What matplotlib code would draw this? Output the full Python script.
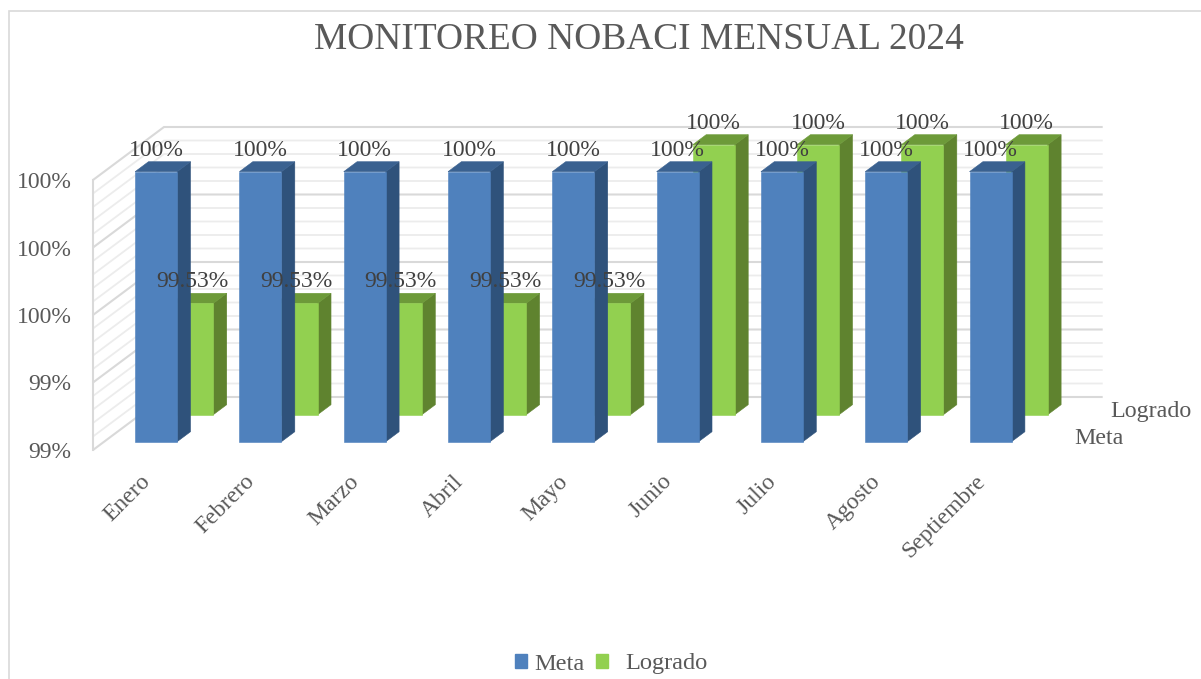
import matplotlib
matplotlib.use("Agg")
import matplotlib.pyplot as plt
import numpy as np
from matplotlib.patches import Polygon, Patch
from matplotlib.lines import Line2D

categories = ["Enero", "Febrero", "Marzo", "Abril", "Mayo", "Junio", "Julio", "Agosto", "Septiembre"]
meta = [100, 100, 100, 100, 100, 100, 100, 100, 100]
logrado = [99.53, 99.53, 99.53, 99.53, 99.53, 100, 100, 100, 100]
meta_labels = ["100%"] * 9
logrado_labels = ["99.53%"] * 5 + ["100%"] * 4
y_ticks = [99.2, 99.4, 99.6, 99.8, 100.0]
y_tick_labels = ["99%", "99%", "100%", "100%", "100%"]
y_minor = [99.24, 99.28, 99.32, 99.36, 99.44, 99.48, 99.52, 99.56, 99.64, 99.68, 99.72,
           99.76, 99.84, 99.88, 99.92, 99.96]

W, H = 1201, 679
FS = 17
plt.rcParams["font.family"] = ["Liberation Serif", "DejaVu Serif"]
fig = plt.figure(figsize=(W / 100, H / 100), dpi=100, facecolor="white")

# front plane of the 3D box, in pixels
L, R, B, T = 93, 1031.7, 450, 180
ax = fig.add_axes([L / W, 1 - B / H, (R - L) / W, (B - T) / H])
ax.set_xlim(0, 9)
ax.set_ylim(99.2, 100)
ax.patch.set_alpha(0)

# depth projection: t=0 front plane, t=1 back wall
DX = 71 / ((R - L) / 9)
DY = 53 / (B - T) * 0.8


def proj(x, v, t):
    return (x + t * DX, v + t * DY)


GRID_MAJOR = "#d9d9d9"
GRID_MINOR = "#ececec"
for vals, col, lw, z in ((y_minor, GRID_MINOR, 1.3, 1), (y_ticks, GRID_MAJOR, 1.5, 2)):
    for v in vals:
        a, b, c = proj(0, v, 0), proj(0, v, 1), proj(9, v, 1)
        ax.plot([a[0], b[0], c[0]], [a[1], b[1], c[1]], color=col, lw=lw, zorder=z,
                clip_on=False, solid_capstyle="butt", solid_joinstyle="miter")

BAR_L, BAR_R = 0.297, 0.700


def bar3d(i, v, t0, t1, front, side, top, z):
    x0, x1 = i + BAR_L, i + BAR_R
    base = 99.2
    faces = [
        ([proj(x1, base, t0), proj(x1, base, t1), proj(x1, v, t1), proj(x1, v, t0)], side),
        ([proj(x0, v, t0), proj(x1, v, t0), proj(x1, v, t1), proj(x0, v, t1)], top),
        ([proj(x0, base, t0), proj(x1, base, t0), proj(x1, v, t0), proj(x0, v, t0)], front),
    ]
    for pts, col in faces:
        ax.add_patch(Polygon(pts, closed=True, facecolor=col, edgecolor=col, lw=0.4,
                             zorder=z, clip_on=False))


BLUE, BLUE_SIDE, BLUE_TOP = "#4F81BD", "#2F527B", "#3A6190"
GREEN, GREEN_SIDE, GREEN_TOP = "#92D050", "#5F832F", "#6D9A39"
T_META = (0.157, 0.345)
T_LOG = (0.665, 0.855)

for i, v in enumerate(logrado):
    bar3d(i, v, *T_LOG, GREEN, GREEN_SIDE, GREEN_TOP, 3)
for i, v in enumerate(meta):
    bar3d(i, v, *T_META, BLUE, BLUE_SIDE, BLUE_TOP, 4)

TXT = "#404040"
xc = (BAR_L + BAR_R) / 2
for i, (v, s) in enumerate(zip(logrado, logrado_labels)):
    ax.annotate(s, proj(i + xc, v, T_LOG[0]), xytext=(0, 15.5), textcoords="offset points",
                ha="center", va="center", fontsize=FS, color=TXT, zorder=6, annotation_clip=False)
for i, (v, s) in enumerate(zip(meta, meta_labels)):
    ax.annotate(s, proj(i + xc, v, T_META[0]), xytext=(0, 15.5), textcoords="offset points",
                ha="center", va="center", fontsize=FS, color=TXT, zorder=6, annotation_clip=False)

# axes
for name in ("top", "right", "bottom"):
    ax.spines[name].set_visible(False)
ax.spines["left"].set_color(GRID_MAJOR)
ax.spines["left"].set_linewidth(1.5)
ax.set_yticks(y_ticks)
ax.set_yticklabels(y_tick_labels)
ax.tick_params(axis="y", length=0, pad=15.5, labelsize=FS, labelcolor="#595959")
ax.set_xticks(np.arange(len(categories)) + 0.45)
ax.set_xticklabels(categories, rotation=45, ha="right", va="top", rotation_mode="anchor")
ax.tick_params(axis="x", length=0, pad=15, labelsize=FS, labelcolor="#595959")

# series axis labels
for name, t in (("Meta", 0.25), ("Logrado", 0.76)):
    ax.annotate(name, proj(9, 99.2, t), xytext=(18, -1.5), textcoords="offset points",
                ha="left", va="center", fontsize=17.3, color="#595959", annotation_clip=False)

fig.text(639 / W, 1 - 40 / H, "MONITOREO NOBACI MENSUAL 2024", ha="center", va="center",
         fontsize=26.9, color="#595959")

# legend entries are unevenly spaced in the reference, so each is placed on its own
for label, col, left, pad in (("Meta", BLUE, 515, 0.3), ("Logrado", GREEN, 596, 0.7)):
    fig.legend(handles=[Patch(color=col, label=label)],
               loc="center left", bbox_to_anchor=(left / W, 1 - 664 / H), frameon=False,
               fontsize=17.6, labelcolor="#595959", handlelength=0.48, handleheight=0.5,
               handletextpad=pad, borderpad=0, borderaxespad=0)

# chart-area border
fig.add_artist(Line2D([8.5 / W, 8.5 / W, 1], [0, 1 - 11 / H, 1 - 11 / H], color=GRID_MAJOR, lw=1.2,
                      transform=fig.transFigure, solid_joinstyle="miter"))

fig.savefig("out.png", dpi=100, facecolor="white")
